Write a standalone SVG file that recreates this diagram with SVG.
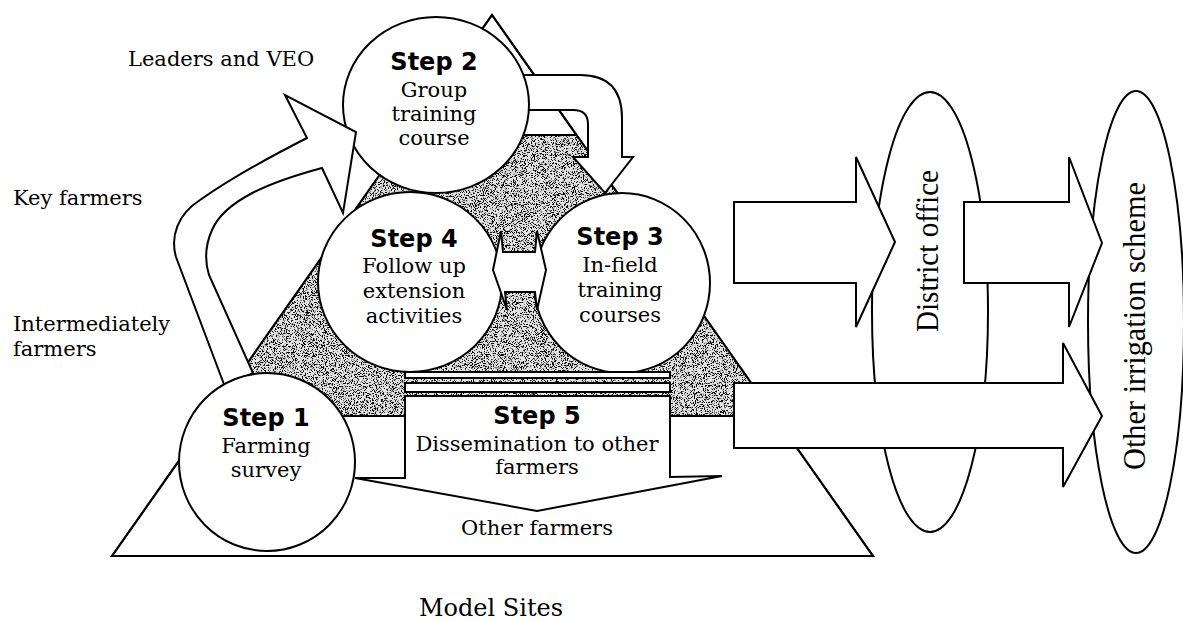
<svg xmlns="http://www.w3.org/2000/svg" width="1183" height="621" viewBox="0 0 1183 621">
<style>
.sh{fill:#fff;stroke:#000;stroke-width:2;stroke-linejoin:miter}
.ol{fill:none;stroke:#000;stroke-width:2}
.t{font-family:"DejaVu Serif","Liberation Serif",serif;font-size:21px;fill:#000}
.c{text-anchor:middle}
.s{font-family:"DejaVu Sans","Liberation Sans",sans-serif;font-weight:bold;font-size:24px;text-anchor:middle;fill:#000}
.r{font-family:"Liberation Serif",serif;font-size:31px;text-anchor:middle;fill:#000}
</style>
<defs>
<filter id="stip" x="0" y="0" width="1" height="1" color-interpolation-filters="sRGB">
<feTurbulence type="fractalNoise" baseFrequency="1.1" numOctaves="3" seed="5" result="n"/>
<feColorMatrix in="n" type="matrix" values="0 0 0 0 0  0 0 0 0 0  0 0 0 0 0  -11 0 0 0 5.2" result="d"/>
<feComposite in="d" in2="SourceAlpha" operator="in"/>
</filter>
</defs>
<rect width="1183" height="621" fill="#fff"/>

<g id="model-site">
<polygon class="sh" points="492,15 873,556 112,556"/>
<polygon points="408,135 576,135 774,416 210,416" fill="#e2e2e2"/>
<polygon points="408,135 576,135 774,416 210,416" fill="#000" filter="url(#stip)"/>
<polygon class="ol" points="492,15 873,556 112,556"/>
<path class="ol" d="M515,135 H577 M300,416 H406 M669,416 H735"/>
</g>

<g id="node-district">
<ellipse class="sh" cx="930" cy="312" rx="58" ry="220"/>
</g>
<g id="node-other-scheme">
<ellipse class="sh" cx="1136" cy="322" rx="48" ry="231"/>
</g>

<g id="connectors">
<path id="arrow-2-3" class="sh" d="M515,75 H580 Q622,75 622,118 V157 H633 L605,193 L573,157 H588 V124 Q588,110 573,110 H515 Z"/>
</g>

<g id="node-step2">
<ellipse class="sh" cx="436" cy="105" rx="93" ry="88"/>
</g>

<g id="connectors-2">
<path id="arrow-1-2" class="sh" d="M225,387 L176,257 C170,236 178,214 200,200 Q240,172 307,138 L285,95 L356,132 L343,213 L322,168 C270,182 225,200 212,230 C204,248 205,262 209,275 L253,373 Z"/>
</g>

<g id="node-step4">
<ellipse class="sh" cx="410" cy="282" rx="92" ry="90"/>
</g>
<g id="node-step3">
<ellipse class="sh" cx="622" cy="283" rx="88" ry="90"/>
</g>

<g id="connectors-3">
<polygon id="arrow-4-3" class="sh" points="493,270 501,231 503,252 535,252 537,231 546,270 537,310 535,292 505,292 507,310"/>
</g>

<g id="node-step5">
<rect class="sh" x="405" y="372" width="265" height="6"/>
<rect class="sh" x="405" y="383" width="265" height="9"/>
<path class="sh" d="M405,396 H670 V477 L722,476 L537,511 L355,478 H405 Z"/>
</g>

<g id="node-step1">
<ellipse class="sh" cx="267" cy="462" rx="88" ry="89"/>
</g>

<g id="connectors-out">
<path class="sh" d="M734,202 H856 V157 L895,242 L856,327 V283 H734 Z"/>
<path class="sh" d="M964,202 H1069 V157 L1102,243 L1069,327 V283 H964 Z"/>
<path class="sh" d="M734,383 H1063 V343 L1102,416 L1063,487 V448 H734 Z"/>
</g>

<g id="labels">
<text class="t" x="128" y="66">Leaders and VEO</text>
<text class="t" x="13" y="205">Key farmers</text>
<text class="t" x="13" y="331">Intermediately</text>
<text class="t" x="13" y="356">farmers</text>

<text class="s" x="434" y="70">Step 2</text>
<text class="t c" x="434" y="97">Group</text>
<text class="t c" x="434" y="121">training</text>
<text class="t c" x="434" y="145">course</text>

<text class="s" x="414" y="247">Step 4</text>
<text class="t c" x="414" y="273">Follow up</text>
<text class="t c" x="414" y="298">extension</text>
<text class="t c" x="414" y="323">activities</text>

<text class="s" x="620" y="245">Step 3</text>
<text class="t c" x="620" y="272">In-field</text>
<text class="t c" x="620" y="297">training</text>
<text class="t c" x="620" y="322">courses</text>

<text class="s" x="266" y="426">Step 1</text>
<text class="t c" x="266" y="453">Farming</text>
<text class="t c" x="266" y="477">survey</text>

<text class="s" x="537" y="424">Step 5</text>
<text class="t c" x="537" y="451">Dissemination to other</text>
<text class="t c" x="537" y="474">farmers</text>

<text class="t c" x="537" y="535">Other farmers</text>
<text class="t c" x="491" y="616" style="font-size:24px">Model Sites</text>

<text class="r" transform="translate(938,251) rotate(-90)" textLength="162" lengthAdjust="spacingAndGlyphs">District office</text>
<text class="r" transform="translate(1145,326) rotate(-90)" textLength="288" lengthAdjust="spacingAndGlyphs">Other irrigation scheme</text>
</g>
</svg>
